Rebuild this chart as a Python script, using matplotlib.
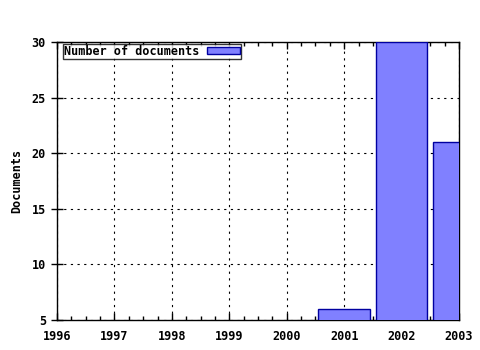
import matplotlib
matplotlib.use('Agg')
import matplotlib.pyplot as plt
from matplotlib.ticker import MultipleLocator

years = [2001, 2002, 2003]
docs = [6, 30, 21]

plt.rcParams['font.family'] = 'DejaVu Sans Mono'
plt.rcParams['font.weight'] = 'bold'
plt.rcParams['axes.labelweight'] = 'bold'
plt.rcParams['font.size'] = 8.5

fig = plt.figure(figsize=(4.8, 3.5), dpi=100)
ax = fig.add_axes([57/480, 1 - 320/350, (459-57)/480, (320-42)/350])

ax.bar(years, docs, width=0.9, color='#8080ff', edgecolor='#0000a0',
       linewidth=1, label='Number of documents', zorder=3)

ax.set_xlim(1996, 2003)
ax.set_ylim(5, 30)
ax.xaxis.set_major_locator(MultipleLocator(1))
ax.xaxis.set_minor_locator(MultipleLocator(0.25))
ax.yaxis.set_major_locator(MultipleLocator(5))
ax.tick_params(axis='x', which='both', direction='in', top=True, width=1, pad=7)
ax.tick_params(axis='x', which='major', length=5)
ax.tick_params(axis='x', which='minor', length=3)
ax.tick_params(axis='y', direction='inout', length=8, width=1, right=False, pad=4)
ax.grid(True, which='major', linestyle=(0, (2, 4)), color='black', linewidth=0.8)
ax.set_axisbelow(True)
for s in ax.spines.values():
    s.set_linewidth(1)
ax.set_ylabel('Documents', labelpad=6)

leg = ax.legend(loc='upper left', bbox_to_anchor=(0.012, 0.998), frameon=True,
                fancybox=False, edgecolor='black', handlelength=2.8,
                handleheight=0.5, borderpad=0.1, borderaxespad=0.1,
                markerfirst=False, handletextpad=0.6)
leg.get_frame().set_linewidth(1)

fig.savefig('out.png', dpi=100)
